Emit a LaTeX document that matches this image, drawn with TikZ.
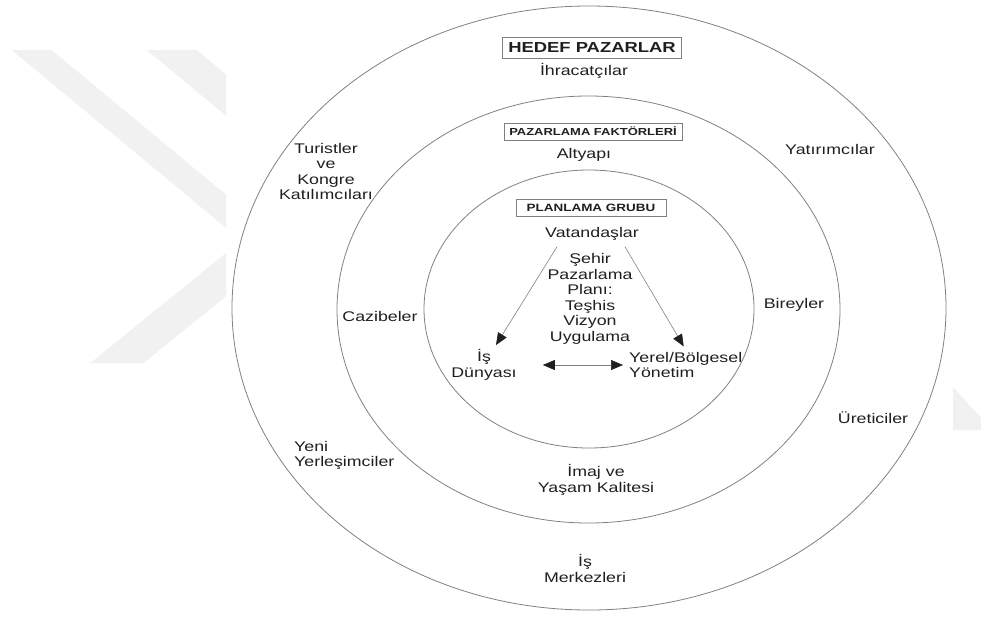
\documentclass[tikz,border=0pt]{standalone}
\usepackage{fontspec}
\setmainfont[FakeStretch=1.27]{Liberation Sans}
\usetikzlibrary{arrows.meta}
\definecolor{ringgray}{gray}{0.5}
\definecolor{txtgray}{gray}{0.12}
\definecolor{markgray}{gray}{0.945}

\begin{document}
\begin{tikzpicture}[x=1pt,y=-1pt,
    lbl/.style={text=txtgray,font=\fontsize{14}{15.5}\selectfont,inner sep=1pt,align=center},
    titlebox/.style={draw=ringgray,line width=0.7pt,text=txtgray,inner sep=0pt,font=\bfseries\fontsize{#1}{#1}\selectfont},
    ring/.style={draw=ringgray,line width=0.8pt},
    tri/.style={draw=ringgray,line width=0.6pt,>={Triangle[length=12pt,width=10pt,color=txtgray]}}]
    \useasboundingbox(0,0)rectangle(981,619);

    \fill[markgray](11.7,50)--(51.7,50)--(226,194.7)--(226,227.9)--cycle;
    \fill[markgray](146.7,50)--(196.7,50)--(226,74.3)--(226,115.8)--cycle;
    \fill[markgray](90,363.3)--(143.3,363.3)--(226,296.3)--(226,253)--cycle;
    \fill[markgray](953,387)--(981,418)--(981,430)--(953,430)--cycle;

    \draw[ring](589,308)ellipse[x radius=357pt,y radius=302pt];
    \draw[ring](588.5,309.5)ellipse[x radius=251.5pt,y radius=213.5pt];
    \draw[ring](589,309)ellipse[x radius=165pt,y radius=139pt];

    \node[titlebox=14.5,minimum width=179pt,minimum height=21pt](hedef)at(592,48){HEDEF PAZARLAR};
    \node[lbl](ihr)at(584,71){İhracatçılar};
    \node[titlebox=10.2,minimum width=178pt,minimum height=17pt](fakt)at(593,131.5){PAZARLAMA FAKTÖRLERİ};
    \node[lbl](alt)at(584,155){Altyapı};
    \node[titlebox=10.6,minimum width=150pt,minimum height=17pt](grup)at(591,207.5){PLANLAMA GRUBU};
    \node[lbl](vat)at(592,234){Vatandaşlar};
    \node[lbl](plan)at(590,299){Şehir\\Pazarlama\\Planı:\\Teşhis\\Vizyon\\Uygulama};

    \node[lbl](tur)at(326,171.5){Turistler\\ve\\Kongre\\Katılımcıları};
    \node[lbl](yat)at(830,149){Yatırımcılar};
    \node[lbl](caz)at(380,316){Cazibeler};
    \node[lbl](bir)at(794,305){Bireyler};
    \node[lbl](isd)at(484,365){İş\\Dünyası};
    \node[lbl,anchor=west,align=left](yer)at(628,365){Yerel/Bölgesel\\Yönetim};
    \node[lbl](ure)at(873,418){Üreticiler};
    \node[lbl,anchor=west,align=left](yeni)at(293,455.5){Yeni\\Yerleşimciler};
    \node[lbl](imaj)at(596,480){İmaj ve\\Yaşam Kalitesi};
    \node[lbl](merk)at(585,568.5){İş\\Merkezleri};

    \draw[tri,->]([shift={(-35,5)}]vat.south)--([shift={(12,-3.5)}]isd.north);
    \draw[tri,->]([shift={(33,5)}]vat.south)--([shift={(-2,-4.5)}]yer.north);
    \draw[tri,<->]([xshift=25pt]isd.east)--([xshift=-5pt]yer.west);
\end{tikzpicture}
\end{document}
